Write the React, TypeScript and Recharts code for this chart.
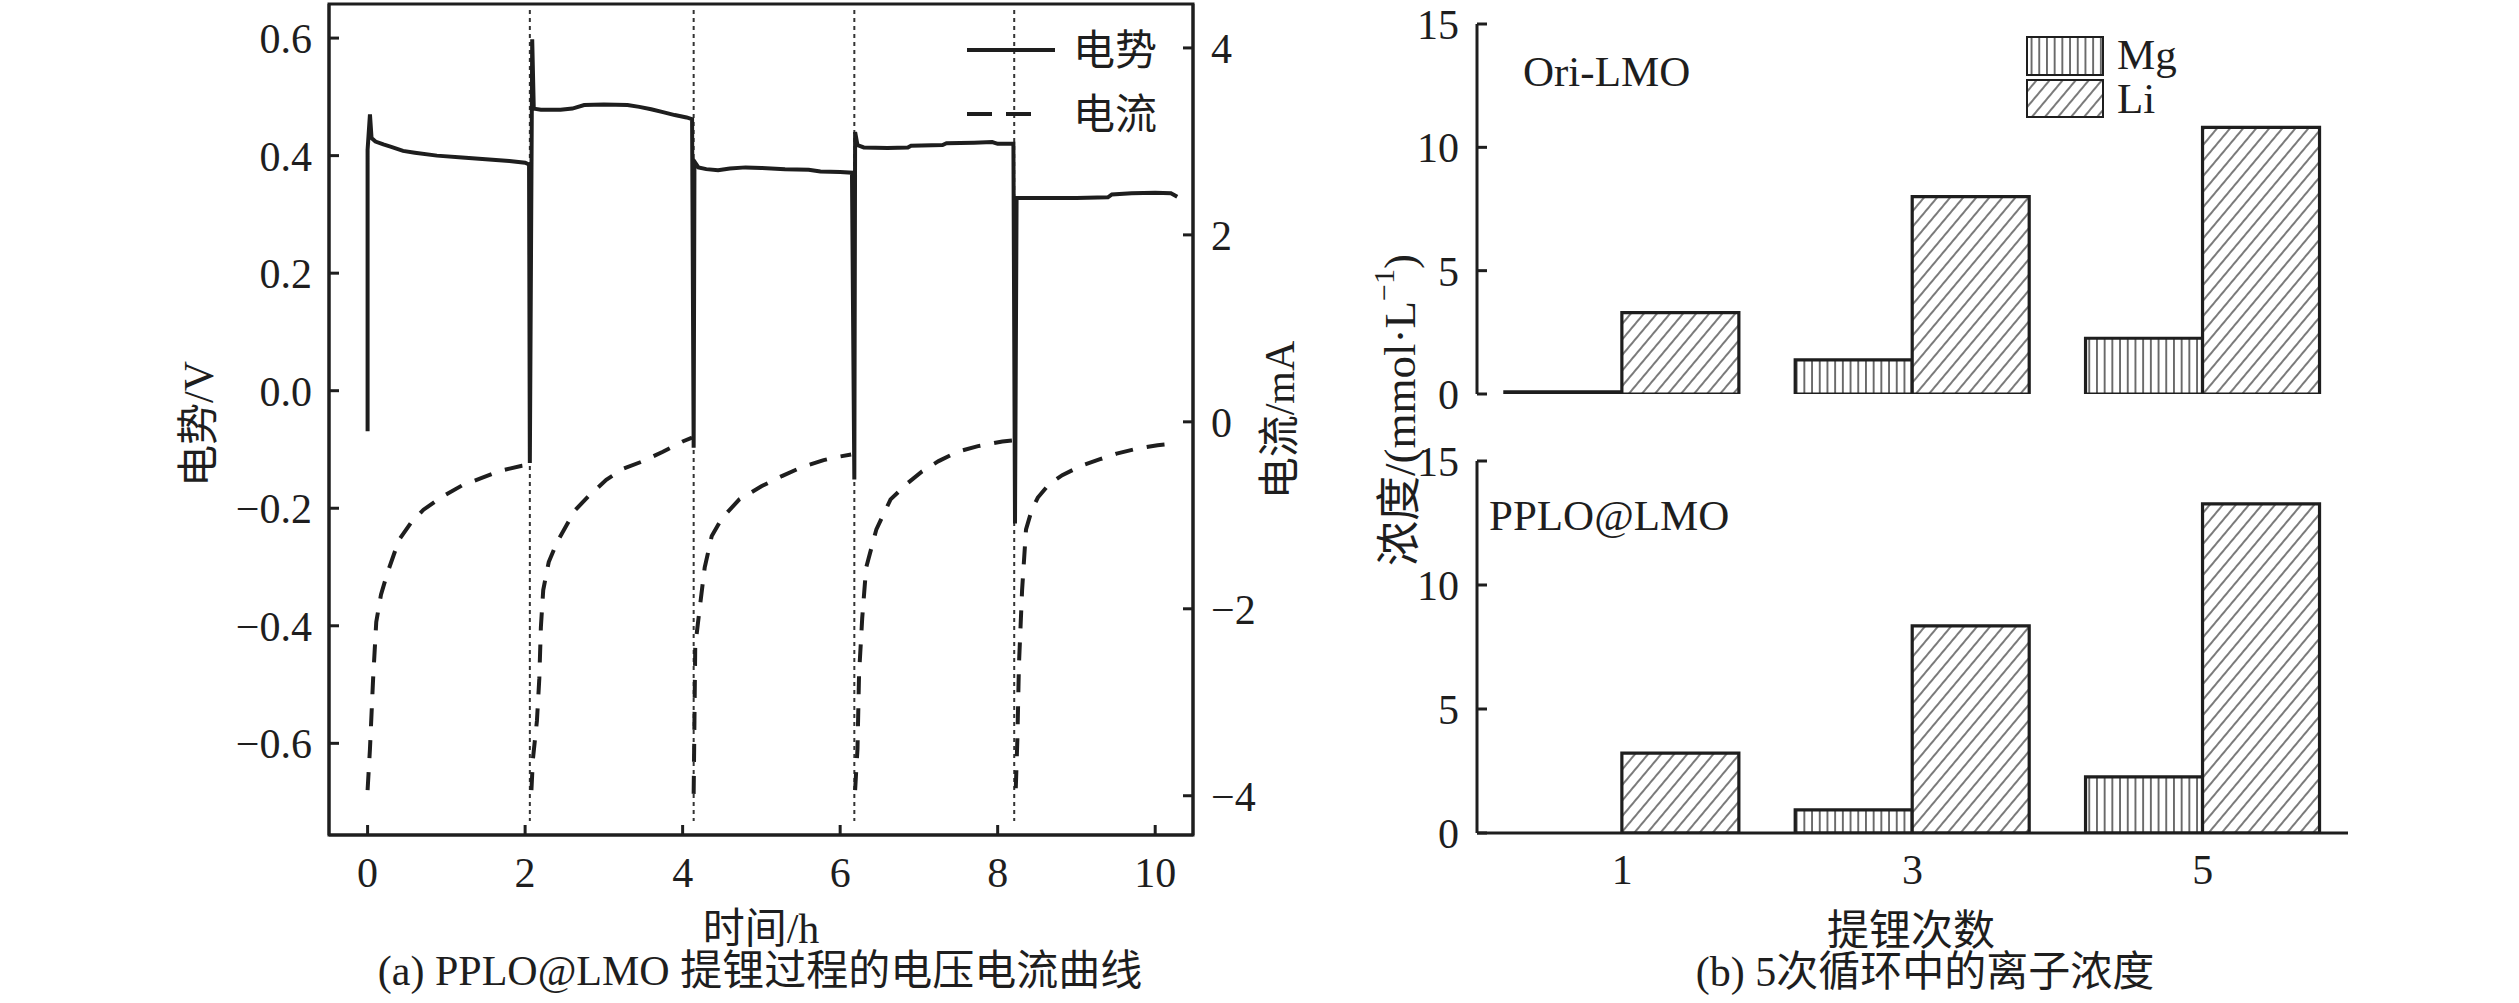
import {
  Bar,
  BarChart,
  Legend,
  Line,
  LineChart,
  ReferenceArea,
  ReferenceLine,
  XAxis,
  YAxis,
} from 'recharts'

// (a) 电势 / 电流 vs 时间
const voltageTime = [
  0, 0, 0.03, 0.05, 0.1, 0.2, 0.3, 0.45, 0.6, 0.88, 1.2, 1.5, 1.8, 2.0, 2.05,
  2.06, 2.09, 2.11, 2.2, 2.45, 2.6, 2.75, 3.0, 3.3, 3.45, 3.6, 3.75, 3.9, 4.05, 4.12,
  4.14, 4.15, 4.2, 4.3, 4.45, 4.6, 4.8, 5.0, 5.3, 5.6, 5.75, 6.0, 6.15,
  6.18, 6.19, 6.22, 6.3, 6.6, 6.86, 6.9, 7.3, 7.35, 7.7, 7.93, 8.0, 8.2,
  8.22, 8.24, 8.5, 9.0, 9.4, 9.45, 9.7, 10.0, 10.2, 10.28,
]
const voltageValue = [
  -0.069, 0.41, 0.47, 0.43, 0.424, 0.419, 0.415, 0.408, 0.405, 0.4, 0.397, 0.394, 0.391, 0.388, 0.385,
  -0.123, 0.598, 0.48, 0.478, 0.478, 0.48, 0.486, 0.487, 0.486, 0.483, 0.479, 0.474, 0.469, 0.465, 0.462,
  -0.097, 0.39, 0.38, 0.377, 0.375, 0.378, 0.38, 0.379, 0.377, 0.376, 0.373, 0.372, 0.371,
  -0.151, 0.44, 0.418, 0.414, 0.413, 0.414, 0.417, 0.418, 0.421, 0.422, 0.423, 0.42, 0.42,
  -0.226, 0.328, 0.328, 0.328, 0.329, 0.334, 0.336, 0.337, 0.336, 0.33,
]
const currentTime = [
  0, 0.03, 0.07, 0.11, 0.17, 0.25, 0.4, 0.55, 0.71, 0.95, 1.2, 1.45, 1.7, 1.96, 2.04,
  2.06,
  2.08, 2.1, 2.15, 2.18, 2.2, 2.23, 2.3, 2.41, 2.63, 2.8, 3.03, 3.25, 3.5, 3.75, 4.0, 4.12,
  4.13,
  4.14, 4.15, 4.16, 4.22, 4.28, 4.37, 4.5, 4.72, 5.0, 5.26, 5.5, 5.79, 6.0, 6.14,
  6.17,
  6.19, 6.22, 6.24, 6.28, 6.33, 6.46, 6.64, 6.85, 7.04, 7.25, 7.49, 7.75, 8.06, 8.19,
  8.21,
  8.23, 8.25, 8.27, 8.31, 8.36, 8.43, 8.51, 8.65, 8.82, 9.09, 9.3, 9.51, 9.75, 10.03, 10.25,
]
const currentValue = [
  -3.94, -3.5, -2.75, -2.14, -1.85, -1.62, -1.26, -1.08, -0.94, -0.8, -0.68, -0.6, -0.52, -0.47, -0.46,
  null,
  -3.94, -3.6, -3.2, -2.75, -2.2, -1.8, -1.5, -1.28, -0.95, -0.8, -0.62, -0.5, -0.42, -0.32, -0.21, -0.17,
  null,
  -3.98, -3.2, -2.4, -1.97, -1.56, -1.22, -1.03, -0.83, -0.69, -0.58, -0.49, -0.41, -0.37, -0.35,
  null,
  -3.94, -3.5, -2.7, -2.1, -1.56, -1.15, -0.83, -0.66, -0.53, -0.42, -0.32, -0.26, -0.21, -0.2,
  null,
  -3.92, -3.4, -2.6, -1.8, -1.15, -0.95, -0.81, -0.67, -0.57, -0.46, -0.4, -0.34, -0.29, -0.25, -0.23,
]
const cycleSwitchTimes = [2.06, 4.14, 6.18, 8.21]
const timeTicks = [0, 2, 4, 6, 8, 10]
const voltageTicks = [-0.6, -0.4, -0.2, 0, 0.2, 0.4, 0.6]
const currentTicks = [-4, -2, 0, 2, 4]

// (b) 离子浓度 mmol/L
const cycles = ['1', '3', '5']
const oriMg = [0.09, 1.38, 2.26]
const oriLi = [3.3, 8.0, 10.81]
const pploMg = [0, 0.93, 2.26]
const pploLi = [3.22, 8.35, 13.27]
const concTicks = [0, 5, 10, 15]

const voltageData = voltageTime.map((t, k) => ({ t, v: voltageValue[k] }))
const currentData = currentTime.map((t, k) => ({ t, i: currentValue[k] }))
const oriData = cycles.map((cycle, k) => ({ cycle, mg: oriMg[k], li: oriLi[k] }))
const pploData = cycles.map((cycle, k) => ({ cycle, mg: pploMg[k], li: pploLi[k] }))

const FONT = "'Liberation Serif', 'Noto Sans CJK SC', serif"
const INK = '#1e1e1e'
const axisStyle = { stroke: INK, strokeWidth: 3 }
const tickStyle = { fill: INK, fontSize: 42, fontFamily: FONT }
const minus = (s: string) => s.replace('-', '\u2212')

const T_DOMAIN = [-0.49, 10.48]
const V_DOMAIN = [-0.756, 0.658]
const I_DOMAIN = [-4.42, 4.47]

function LineLegend() {
  return (
    <svg width={220} height={112} style={{ display: 'block' }}>
      <line x1={7} y1={22} x2={95} y2={22} stroke={INK} strokeWidth={4} />
      <text x={113} y={37} fontSize={42} fontFamily={FONT} fill={INK}>电势</text>
      <line x1={7} y1={86} x2={71} y2={86} stroke={INK} strokeWidth={4} strokeDasharray="25 14" />
      <text x={113} y={101} fontSize={42} fontFamily={FONT} fill={INK}>电流</text>
    </svg>
  )
}

function BarLegend() {
  return (
    <svg width={190} height={95} style={{ display: 'block' }}>
      <rect x={7} y={7} width={76} height={38} fill="url(#mgHatch)" stroke={INK} strokeWidth={2} />
      <text x={97} y={39} fontSize={43} fontFamily={FONT} fill={INK}>Mg</text>
      <rect x={7} y={50} width={76} height={37} fill="url(#liHatch)" stroke={INK} strokeWidth={2} />
      <text x={97} y={83} fontSize={43} fontFamily={FONT} fill={INK}>Li</text>
    </svg>
  )
}

function ConcChart({ data, top, height, margin, showTicks, legend }: any) {
  return (
    <div style={{ position: 'absolute', left: 1300, top }}>
      <BarChart
        width={1100}
        height={height}
        data={data}
        margin={margin}
        barCategoryGap="9.6%"
        barGap={0}
      >
        <defs>
          <pattern id="mgHatch" patternUnits="userSpaceOnUse" width={7.7} height={10}>
            <rect width={7.7} height={10} fill="#fff" />
            <line x1={3.85} y1={0} x2={3.85} y2={10} stroke="#333" strokeWidth={1.4} />
          </pattern>
          <pattern
            id="liHatch"
            patternUnits="userSpaceOnUse"
            width={10}
            height={10}
            patternTransform="rotate(40)"
          >
            <rect width={10} height={10} fill="#fff" />
            <line x1={5} y1={0} x2={5} y2={10} stroke="#333" strokeWidth={1.3} />
          </pattern>
        </defs>
        <XAxis
          dataKey="cycle"
          axisLine={axisStyle}
          tickLine={false}
          tick={showTicks ? tickStyle : false}
          tickSize={0}
          tickMargin={21}
          height={showTicks ? 60 : 0}
        />
        <XAxis
          xAxisId="top"
          orientation="top"
          dataKey="cycle"
          axisLine={axisStyle}
          tickLine={false}
          tick={false}
          height={0}
        />
        <YAxis
          domain={[0, 15]}
          ticks={concTicks}
          allowDataOverflow
          axisLine={axisStyle}
          tickLine={axisStyle}
          tickSize={-10}
          tickMargin={28}
          tick={tickStyle}
          width={100}
        />
        <YAxis
          yAxisId="right"
          orientation="right"
          domain={[0, 15]}
          axisLine={axisStyle}
          tickLine={false}
          tick={false}
          width={0}
        />
        <Bar dataKey="mg" fill="url(#mgHatch)" stroke={INK} strokeWidth={3.2} isAnimationActive={false} />
        <Bar dataKey="li" fill="url(#liHatch)" stroke={INK} strokeWidth={3.2} isAnimationActive={false} />
        {legend && (
          <Legend
            layout="vertical"
            align="center"
            verticalAlign="middle"
            wrapperStyle={{ left: 720, top: 30, width: 190, height: 95 }}
            content={() => <BarLegend />}
          />
        )}
      </BarChart>
    </div>
  )
}

export default function App() {
  return (
    <div
      style={{
        position: 'absolute',
        left: 0,
        top: 0,
        width: 2519,
        height: 1003,
        background: '#fff',
        fontFamily: FONT,
      }}
    >
      <div style={{ position: 'absolute', left: 0, top: 0 }}>
        <LineChart width={1400} height={1003} margin={{ top: 4, right: 107, bottom: 88, left: 229 }}>
          <XAxis
            type="number"
            dataKey="t"
            domain={T_DOMAIN}
            ticks={timeTicks}
            allowDataOverflow
            axisLine={axisStyle}
            tickLine={axisStyle}
            tickSize={-10}
            tickMargin={32}
            tick={tickStyle}
            height={80}
          />
          <YAxis
            yAxisId="v"
            type="number"
            domain={V_DOMAIN}
            ticks={voltageTicks}
            allowDataOverflow
            tickFormatter={(v: number) => minus(v.toFixed(1))}
            axisLine={axisStyle}
            tickLine={axisStyle}
            tickSize={-10}
            tickMargin={27}
            tick={tickStyle}
            width={100}
          />
          <YAxis
            yAxisId="i"
            orientation="right"
            type="number"
            domain={I_DOMAIN}
            ticks={currentTicks}
            allowDataOverflow
            tickFormatter={(v: number) => minus(String(v))}
            axisLine={axisStyle}
            tickLine={axisStyle}
            tickSize={-10}
            tickMargin={28}
            tick={tickStyle}
            width={100}
          />
          <ReferenceArea
            yAxisId="v"
            x1={T_DOMAIN[0]}
            x2={T_DOMAIN[1]}
            y1={V_DOMAIN[0]}
            y2={V_DOMAIN[1]}
            fill="none"
            stroke={INK}
            strokeWidth={3}
          />
          {cycleSwitchTimes.map((t) => (
            <ReferenceLine
              key={t}
              yAxisId="v"
              segment={[
                { x: t, y: 0.648 },
                { x: t, y: -0.732 },
              ]}
              stroke="#333"
              strokeWidth={2}
              strokeDasharray="4 4"
            />
          ))}
          <Line
            yAxisId="v"
            data={voltageData}
            dataKey="v"
            type="linear"
            stroke={INK}
            strokeWidth={4}
            dot={false}
            isAnimationActive={false}
          />
          <Line
            yAxisId="i"
            data={currentData}
            dataKey="i"
            type="linear"
            stroke={INK}
            strokeWidth={4}
            strokeDasharray="18 14"
            dot={false}
            isAnimationActive={false}
          />
          <Legend
            layout="vertical"
            align="center"
            verticalAlign="middle"
            wrapperStyle={{ left: 960, top: 28, width: 220, height: 112 }}
            content={() => <LineLegend />}
          />
        </LineChart>
      </div>

      <ConcChart
        data={oriData}
        top={0}
        height={430}
        margin={{ top: 24, right: 52, bottom: 36, left: 77 }}
        showTicks={false}
        legend
      />
      <ConcChart
        data={pploData}
        top={430}
        height={573}
        margin={{ top: 31, right: 52, bottom: 110, left: 77 }}
        showTicks
        legend={false}
      />

      <svg
        width={2519}
        height={1003}
        style={{ position: 'absolute', left: 0, top: 0, pointerEvents: 'none' }}
        fontFamily={FONT}
        fill={INK}
      >
        <text x={199} y={424} fontSize={42} textAnchor="middle" dominantBaseline="central" transform="rotate(-90 199 424)">
          电势/V
        </text>
        <text x={1280} y={420} fontSize={42} textAnchor="middle" dominantBaseline="central" transform="rotate(-90 1280 420)">
          电流/mA
        </text>
        <text x={761} y={943} fontSize={42} textAnchor="middle">时间/h</text>
        <text x={760} y={985} fontSize={42} textAnchor="middle">(a) PPLO@LMO 提锂过程的电压电流曲线</text>

        <text x={1400} y={410} fontSize={45} textAnchor="middle" dominantBaseline="central" transform="rotate(-90 1400 410)">
          浓度/(mmol·L<tspan fontSize={30} dy={-17}>−1</tspan>
          <tspan dy={17}>)</tspan>
        </text>
        <text x={1911} y={945} fontSize={42} textAnchor="middle">提锂次数</text>
        <text x={1925} y={986} fontSize={42} textAnchor="middle">(b) 5次循环中的离子浓度</text>
        <text x={1523} y={86} fontSize={43}>Ori-LMO</text>
        <text x={1489} y={530} fontSize={43}>PPLO@LMO</text>
      </svg>
    </div>
  )
}
